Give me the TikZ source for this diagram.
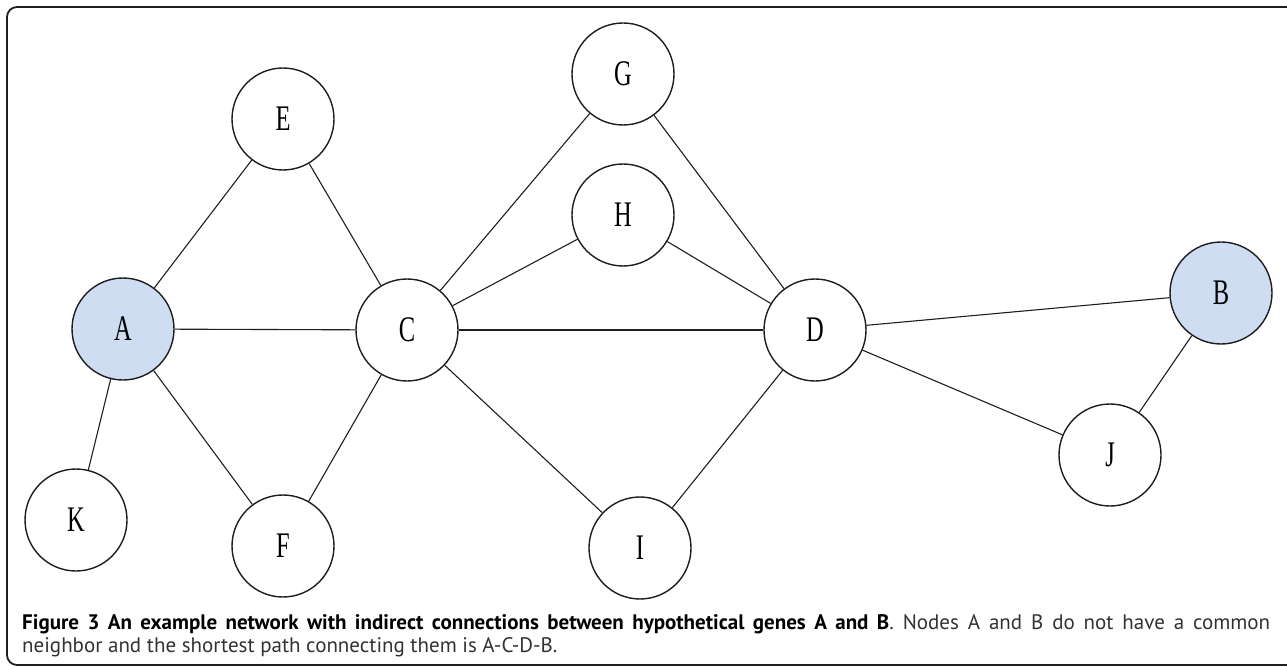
\documentclass[tikz,border=0pt]{standalone}
\usepackage{fontspec}
\usepackage{graphicx}
\setmainfont{Liberation Serif}
\newfontfamily\capfont{PT Sans}
\definecolor{nodefill}{RGB}{207,221,242}
\definecolor{ink}{RGB}{30,30,30}
\definecolor{captext}{RGB}{50,50,50}
\newcommand\glab[1]{\scalebox{0.68}[1]{#1}}
\begin{document}
\begin{tikzpicture}[x=1pt,y=-1pt,
  gene/.style={circle, draw=ink, line width=1.4pt, minimum size=102pt, inner sep=0pt, fill=white,
    font=\fontsize{36}{36}\selectfont},
  hub/.style={gene, fill=nodefill},
  link/.style={draw=ink, line width=1.1pt},
  captxt/.style={anchor=base west, inner sep=0pt, text=captext, font=\capfont\fontsize{21}{24}\selectfont}]
\useasboundingbox (0,0) rectangle (1287,668);
\begin{scope}
\clip (0,0) rectangle (1287,668);
\draw[line width=1.8pt, draw=ink, rounded corners=10pt] (7,7) rectangle (1300,665);
\end{scope}

\node[hub]  (A) at (123,329) {\glab{A}};
\node[gene] (E) at (283,119) {\glab{E}};
\node[gene] (C) at (407,330) {\glab{C}};
\node[gene] (F) at (283,546) {\glab{F}};
\node[gene] (K) at (76,520)  {\glab{K}};
\node[gene] (G) at (623,74)  {\glab{G}};
\node[gene] (H) at (623,215) {\glab{H}};
\node[gene] (D) at (815,330) {\glab{D}};
\node[gene] (I) at (640,548) {\glab{I}};
\node[gene] (J) at (1110,455) {\glab{J}};
\node[hub]  (B) at (1221,293) {\glab{B}};

\draw[link] (A) -- (E);
\draw[link] (A) -- (C);
\draw[link] (A) -- (K);
\draw[link] (A) -- (F);
\draw[link] (E) -- (C);
\draw[link] (C) -- (F);
\draw[link] (C) -- (G);
\draw[link] (C) -- (H);
\draw[link] (C) -- (D);
\draw[link] (C) -- (I);
\draw[link] (H) -- (D);
\draw[link] (G) -- (D);
\draw[link] (I) -- (D);
\draw[link] (D) -- (B);
\draw[link] (D) -- (J);
\draw[link] (J) -- (B);

\node[captxt] (cap1) at (22,629)
  {\makebox[1248pt][s]{\textcolor{black}{\textbf{Figure 3 An example network with indirect connections between hypothetical genes A and B}}. Nodes A and B do not have a common}};
\node[captxt] (cap2) at (22,652)
  {neighbor and the shortest path connecting them is A-C-D-B.};
\end{tikzpicture}
\end{document}
